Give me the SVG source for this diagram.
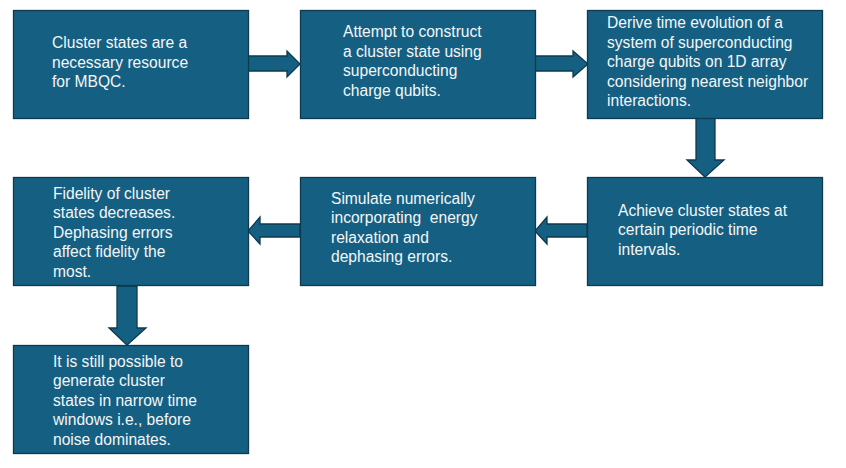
<svg xmlns="http://www.w3.org/2000/svg" width="846" height="468" viewBox="0 0 846 468">
<style>
.box{fill:#156082;stroke:#0D3A50;stroke-width:1.3}
.arr{fill:#156082;stroke:#0D3A50;stroke-width:1.3;stroke-linejoin:miter}
text{font-family:"Liberation Sans",Arial,sans-serif;font-size:15.6px;fill:#F4F6F8;white-space:pre}
</style>
<rect width="846" height="468" fill="#ffffff"/>
<g id="connectors">
<polygon class="arr" points="248,56 287,56 287,51 300,64 287,77 287,71 248,71"/>
<polygon class="arr" points="535,56 573,56 573,51 588,64 573,77 573,71 535,71"/>
<polygon class="arr" points="696,118 715,118 715,160 724,160 705,177 687,160 696,160"/>
<polygon class="arr" points="587,224 547,224 547,217 535,231 547,244 547,237 587,237"/>
<polygon class="arr" points="300,224 260,224 260,217 248,231 260,244 260,237 300,237"/>
<polygon class="arr" points="117,286 137,286 137,328 146,328 127,345 109,328 117,328"/>
</g>
<g id="n1">
<rect class="box" x="13.5" y="10.5" width="235" height="108"/>
<text x="52" y="48">Cluster states are a</text>
<text x="52" y="68">necessary resource</text>
<text x="52" y="87">for MBQC.</text>
</g>
<g id="n2">
<rect class="box" x="300.5" y="10.5" width="235" height="108"/>
<text x="343" y="37">Attempt to construct</text>
<text x="343" y="57">a cluster state using</text>
<text x="343" y="76">superconducting</text>
<text x="343" y="96">charge qubits.</text>
</g>
<g id="n3">
<rect class="box" x="587.5" y="10.5" width="235" height="108"/>
<text x="607" y="28">Derive time evolution of a</text>
<text x="607" y="48">system of superconducting</text>
<text x="607" y="67">charge qubits on 1D array</text>
<text x="607" y="87">considering nearest neighbor</text>
<text x="607" y="106">interactions.</text>
</g>
<g id="n4">
<rect class="box" x="587.5" y="177.5" width="235" height="108"/>
<text x="618" y="216">Achieve cluster states at</text>
<text x="618" y="235">certain periodic time</text>
<text x="618" y="255">intervals.</text>
</g>
<g id="n5">
<rect class="box" x="300.5" y="177.5" width="235" height="108"/>
<text x="331" y="204">Simulate numerically</text>
<text x="331" y="223">incorporating  energy</text>
<text x="331" y="243">relaxation and</text>
<text x="331" y="262">dephasing errors.</text>
</g>
<g id="n6">
<rect class="box" x="13.5" y="177.5" width="235" height="108"/>
<text x="53" y="199">Fidelity of cluster</text>
<text x="53" y="218">states decreases.</text>
<text x="53" y="238">Dephasing errors</text>
<text x="53" y="257">affect fidelity the</text>
<text x="53" y="277">most.</text>
</g>
<g id="n7">
<rect class="box" x="13.5" y="345.5" width="235" height="108"/>
<text x="53" y="367">It is still possible to</text>
<text x="53" y="386">generate cluster</text>
<text x="53" y="406">states in narrow time</text>
<text x="53" y="425">windows i.e., before</text>
<text x="53" y="445">noise dominates.</text>
</g>
</svg>
